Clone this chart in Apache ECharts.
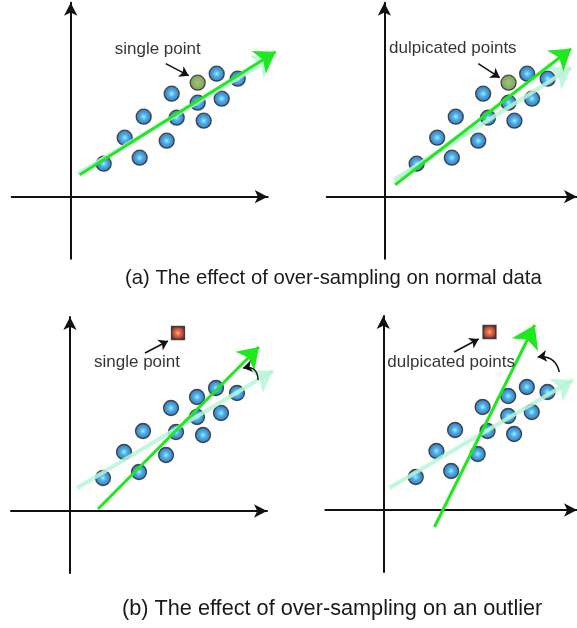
<!DOCTYPE html>
<html>
<head>
<meta charset="utf-8">
<script src="https://cdn.jsdelivr.net/npm/echarts@6/dist/echarts.min.js"></script>
<style>
    html, body { margin: 0; padding: 0; background: #fff; }
    #chart { width: 577px; height: 628px; }
</style>
</head>
<body>
<div id="chart"></div>
<script>
    // the twelve ordinary samples (same in all four panels)
    const pointX = [3.3, 5.4, 6.9, 7.3, 9.6, 10.1, 10.6, 12.7, 13.3, 14.6, 15.1, 16.7];
    const pointY = [3.3, 5.9, 3.9, 8.0, 5.6, 10.3, 7.9, 9.4, 7.6, 12.3, 9.8, 11.8];
    const addedPoint = [12.7, 11.4];
    const outlierPoint = [10.8, 17.8];

    // fitted lines [start, end]
    const fitNormalSingle = [[0.9, 2.2], [20.5, 14.5]];
    const fitNormalSingleOld = [[0.7, 2.3], [20.3, 14.0]];
    const fitNormalDup = [[1.1, 1.2], [19.1, 14.8]];
    const fitNormalDupOld = [[1.0, 1.7], [19.1, 12.9]];
    const fitOutlierSingle = [[2.8, 0.2], [18.9, 16.4]];
    const fitOutlierSingleOld = [[0.7, 2.3], [20.3, 14.0]];
    const fitOutlierDup = [[5.2, -1.7], [15.4, 18.5]];
    const fitOutlierDupOld = [[0.6, 2.2], [19.3, 13.0]];

    // small pointer arrows [tail, tip]
    const pointers = [
        [[9.5, 13.3], [11.8, 12.1]],
        [[9.6, 13.3], [11.8, 11.9]],
        [[7.5, 15.8], [9.8, 17.0]],
        [[7.2, 15.8], [9.7, 17.1]],
    ];
    // curved rotation arrows [tip, tail]
    const turnOutlierSingle = [[17.3, 14.3], [18.8, 13.1]];
    const turnOutlierDup = [[15.7, 15.3], [17.9, 13.8]];

    const panelLabels = ['single point', 'dulpicated points', 'single point', 'dulpicated points'];
    const labelPos = [[8.7, 14.7], [7.0, 14.8], [6.7, 14.9], [6.9, 14.8]];
    const captions = [
        '(a) The effect of over-sampling on normal data',
        '(b) The effect of over-sampling on an outlier',
    ];

    const xRange = [-5.9, 19.7];
    const yRange = [-6.2, 19.4];

    const FONT = '"Liberation Sans", Arial, sans-serif';
    const GREEN = '#1fe81f';
    const MINT = '#b6f6d6';

    const gridPos = [
        { left: 11.7, top: 2.7 },
        { left: 326.7, top: 2.7 },
        { left: 11, top: 317 },
        { left: 325.3, top: 316 },
    ];

    const blueBall = {
        type: 'radial', x: 0.5, y: 0.5, r: 0.5,
        colorStops: [
            { offset: 0, color: '#e8fcff' },
            { offset: 0.12, color: '#5ccfff' },
            { offset: 0.45, color: '#1a92e0' },
            { offset: 1, color: '#09519a' },
        ],
    };
    const greenBall = {
        type: 'radial', x: 0.5, y: 0.5, r: 0.5,
        colorStops: [
            { offset: 0, color: '#8cb65c' },
            { offset: 1, color: '#5a8532' },
        ],
    };
    const redBox = {
        type: 'radial', x: 0.5, y: 0.5, r: 0.5,
        colorStops: [
            { offset: 0, color: '#ffc070' },
            { offset: 0.3, color: '#f04a18' },
            { offset: 0.7, color: '#a81c0c' },
            { offset: 1, color: '#3a0a05' },
        ],
    };

    const basePoints = pointX.map((x, i) => [x, pointY[i]]);

    function arrowLine(idx, coords, style, size, z, symbol) {
        return {
            type: 'lines',
            coordinateSystem: 'cartesian2d',
            xAxisIndex: idx,
            yAxisIndex: idx,
            clip: false,
            silent: true,
            z: z,
            symbol: symbol || ['none', 'arrow'],
            symbolSize: size,
            lineStyle: Object.assign({ opacity: 1 }, style),
            data: [{ coords: coords }],
        };
    }

    function balls(idx, data, color, symbol, size) {
        return {
            type: 'scatter',
            xAxisIndex: idx,
            yAxisIndex: idx,
            symbol: symbol,
            symbolSize: size,
            z: 2,
            itemStyle: { color: color, borderColor: '#262626', borderWidth: 1.3 },
            data: data,
        };
    }

    function label(idx) {
        return {
            type: 'scatter',
            xAxisIndex: idx,
            yAxisIndex: idx,
            symbolSize: 1,
            z: 6,
            itemStyle: { color: 'transparent' },
            label: {
                show: true,
                position: 'inside',
                formatter: panelLabels[idx],
                fontFamily: FONT,
                fontSize: 17,
                color: '#000',
                textBorderWidth: 0,
            },
            data: [labelPos[idx]],
        };
    }

    const oldFit = { color: MINT, width: 4, opacity: 0.85 };
    const newFit = { color: GREEN, width: 3 };
    const black = { color: '#111', width: 1.5 };

    const series = [];
    // panel (a) left
    series.push(balls(0, basePoints, blueBall, 'circle', 15));
    series.push(balls(0, [addedPoint], greenBall, 'circle', 15));
    series.push(arrowLine(0, fitNormalSingleOld, oldFit, 20, 3));
    series.push(arrowLine(0, fitNormalSingle, newFit, 20, 4));
    // panel (a) right
    series.push(balls(1, basePoints, blueBall, 'circle', 15));
    series.push(balls(1, [addedPoint], greenBall, 'circle', 15));
    series.push(arrowLine(1, fitNormalDupOld, oldFit, 20, 3));
    series.push(arrowLine(1, fitNormalDup, newFit, 20, 4));
    // panel (b) left
    series.push(balls(2, basePoints.concat([addedPoint]), blueBall, 'circle', 15));
    series.push(balls(2, [outlierPoint], redBox, 'rect', 13));
    series.push(arrowLine(2, fitOutlierSingleOld, oldFit, 20, 3));
    series.push(arrowLine(2, fitOutlierSingle, newFit, 20, 4));
    series.push(arrowLine(2, turnOutlierSingle, Object.assign({ curveness: 0.6 }, black), 9, 5, ['arrow', 'none']));
    // panel (b) right
    series.push(balls(3, basePoints.concat([addedPoint]), blueBall, 'circle', 15));
    series.push(balls(3, [outlierPoint], redBox, 'rect', 13));
    series.push(arrowLine(3, fitOutlierDupOld, oldFit, 20, 3));
    series.push(arrowLine(3, fitOutlierDup, newFit, 22, 4));
    series.push(arrowLine(3, turnOutlierDup, Object.assign({ curveness: 0.45 }, black), 9, 5, ['arrow', 'none']));

    for (let i = 0; i < 4; i++) {
        series.push(arrowLine(i, pointers[i], black, 9, 5));
        series.push(label(i));
    }

    const axisLine = {
        show: true,
        onZero: true,
        symbol: ['none', 'arrow'],
        symbolSize: [10, 13],
        lineStyle: { color: '#111', width: 2 },
    };

    const option = {
        animation: false,
        backgroundColor: '#fff',
        title: [
            {
                text: captions[0], left: 120, top: 263,
                textStyle: { fontFamily: FONT, fontSize: 20.3, fontWeight: 'normal', color: '#1a1a1a' },
            },
            {
                text: captions[1], left: 117, top: 593,
                textStyle: { fontFamily: FONT, fontSize: 21.7, fontWeight: 'normal', color: '#1a1a1a' },
            },
        ],
        grid: gridPos.map(g => ({ left: g.left, top: g.top, width: 256, height: 256 })),
        xAxis: gridPos.map((g, i) => ({
            type: 'value', gridIndex: i, min: xRange[0], max: xRange[1],
            axisLine: axisLine, axisTick: { show: false }, axisLabel: { show: false }, splitLine: { show: false },
        })),
        yAxis: gridPos.map((g, i) => ({
            type: 'value', gridIndex: i, min: yRange[0], max: yRange[1],
            axisLine: axisLine, axisTick: { show: false }, axisLabel: { show: false }, splitLine: { show: false },
        })),
        series: series,
    };

    const chart = echarts.init(document.getElementById('chart'));
    chart.setOption(option);
    window.addEventListener('resize', () => chart.resize());
</script>
</body>
</html>
